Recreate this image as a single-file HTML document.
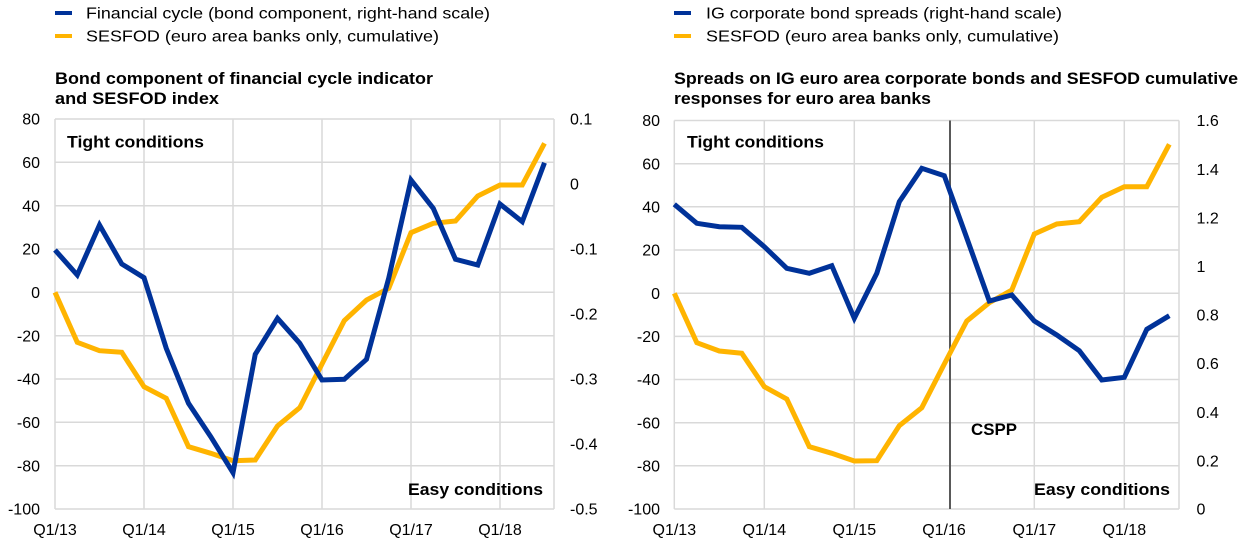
<!DOCTYPE html>
<html>
<head>
<meta charset="utf-8">
<style>
html,body{margin:0;padding:0;background:#fff;}
svg{display:block;}
text{font-family:"Liberation Sans",Arial,sans-serif;fill:#000;}
.t{font-size:16px;}
.b{font-size:17px;font-weight:bold;}
</style>
</head>
<body>
<svg width="1240" height="545" viewBox="0 0 1240 545" xmlns="http://www.w3.org/2000/svg">
<rect width="1240" height="545" fill="#fff"/>

<!-- ===== LEFT CHART ===== -->
<rect x="55" y="11" width="17" height="4" fill="#003299"/>
<text class="t" x="86" y="18.5" textLength="404" lengthAdjust="spacingAndGlyphs">Financial cycle (bond component, right-hand scale)</text>
<rect x="55" y="34" width="17" height="4" fill="#ffb400"/>
<text class="t" x="86" y="41.5" textLength="353" lengthAdjust="spacingAndGlyphs">SESFOD (euro area banks only, cumulative)</text>
<text class="b" x="55" y="84" textLength="378" lengthAdjust="spacingAndGlyphs">Bond component of financial cycle indicator</text>
<text class="b" x="55" y="104" textLength="164" lengthAdjust="spacingAndGlyphs">and SESFOD index</text>

<g stroke="#d9d9d9" stroke-width="1.5" fill="none">
<line x1="55" y1="119" x2="554" y2="119"/>
<line x1="55" y1="162.3" x2="554" y2="162.3"/>
<line x1="55" y1="205.7" x2="554" y2="205.7"/>
<line x1="55" y1="249" x2="554" y2="249"/>
<line x1="55" y1="292.3" x2="554" y2="292.3"/>
<line x1="55" y1="335.7" x2="554" y2="335.7"/>
<line x1="55" y1="379" x2="554" y2="379"/>
<line x1="55" y1="422.3" x2="554" y2="422.3"/>
<line x1="55" y1="465.7" x2="554" y2="465.7"/>
<line x1="55" y1="509" x2="554" y2="509"/>
<line x1="55" y1="119" x2="55" y2="509"/>
<line x1="144" y1="119" x2="144" y2="509"/>
<line x1="233" y1="119" x2="233" y2="509"/>
<line x1="322" y1="119" x2="322" y2="509"/>
<line x1="411" y1="119" x2="411" y2="509"/>
<line x1="500" y1="119" x2="500" y2="509"/>
<line x1="554" y1="119" x2="554" y2="509"/>
</g>

<g text-anchor="end">
<text class="t" x="40" y="124.7">80</text>
<text class="t" x="40" y="168">60</text>
<text class="t" x="40" y="211.4">40</text>
<text class="t" x="40" y="254.7">20</text>
<text class="t" x="40" y="298">0</text>
<text class="t" x="40" y="341.4">-20</text>
<text class="t" x="40" y="384.7">-40</text>
<text class="t" x="40" y="428">-60</text>
<text class="t" x="40" y="471.4">-80</text>
<text class="t" x="40" y="514.7">-100</text>
</g>
<g>
<text class="t" x="570" y="124.7">0.1</text>
<text class="t" x="570" y="189.7">0</text>
<text class="t" x="570" y="254.7">-0.1</text>
<text class="t" x="570" y="319.7">-0.2</text>
<text class="t" x="570" y="384.7">-0.3</text>
<text class="t" x="570" y="449.7">-0.4</text>
<text class="t" x="570" y="514.7">-0.5</text>
</g>
<g text-anchor="middle">
<text class="t" x="55" y="535">Q1/13</text>
<text class="t" x="144" y="535">Q1/14</text>
<text class="t" x="233" y="535">Q1/15</text>
<text class="t" x="322" y="535">Q1/16</text>
<text class="t" x="411" y="535">Q1/17</text>
<text class="t" x="500" y="535">Q1/18</text>
</g>

<polyline fill="none" stroke="#ffb400" stroke-width="5" stroke-linejoin="miter" points="55,292.3 77.25,342.3 99.5,350.7 121.75,352.3 144,386.7 166.25,398.3 188.5,446.7 210.75,453.3 233,460.7 255.25,460 277.5,426 299.75,407.7 322,364 344.25,320.7 366.5,300 388.75,288.3 411,232.7 433.25,223.3 455.5,221 477.75,196 500,185 522.25,185 544.5,143.3"/>
<polyline fill="none" stroke="#003299" stroke-width="5" stroke-linejoin="miter" points="55,250 77.25,275 99.5,225 121.75,264 144,277.7 166.25,348.3 188.5,403.3 210.75,436.7 233,472.7 255.25,354.3 277.5,318.3 299.75,343.3 322,380 344.25,379.3 366.5,359.3 388.75,278 411,180 433.25,208.3 455.5,259.3 477.75,265 500,204 522.25,221.7 544.5,162.7"/>

<text class="b" x="67" y="147.7" textLength="137" lengthAdjust="spacingAndGlyphs">Tight conditions</text>
<text class="b" x="408" y="495" textLength="135" lengthAdjust="spacingAndGlyphs">Easy conditions</text>

<!-- ===== RIGHT CHART ===== -->
<rect x="674" y="11" width="17" height="4" fill="#003299"/>
<text class="t" x="706" y="18.5" textLength="356" lengthAdjust="spacingAndGlyphs">IG corporate bond spreads (right-hand scale)</text>
<rect x="674" y="34" width="17" height="4" fill="#ffb400"/>
<text class="t" x="706" y="41.5" textLength="353" lengthAdjust="spacingAndGlyphs">SESFOD (euro area banks only, cumulative)</text>
<text class="b" x="674" y="84" textLength="564" lengthAdjust="spacingAndGlyphs">Spreads on IG euro area corporate bonds and SESFOD cumulative</text>
<text class="b" x="674" y="104" textLength="257" lengthAdjust="spacingAndGlyphs">responses for euro area banks</text>

<g stroke="#d9d9d9" stroke-width="1.5" fill="none">
<line x1="674.3" y1="120.5" x2="1179" y2="120.5"/>
<line x1="674.3" y1="163.7" x2="1179" y2="163.7"/>
<line x1="674.3" y1="206.8" x2="1179" y2="206.8"/>
<line x1="674.3" y1="250" x2="1179" y2="250"/>
<line x1="674.3" y1="293.2" x2="1179" y2="293.2"/>
<line x1="674.3" y1="336.4" x2="1179" y2="336.4"/>
<line x1="674.3" y1="379.5" x2="1179" y2="379.5"/>
<line x1="674.3" y1="422.7" x2="1179" y2="422.7"/>
<line x1="674.3" y1="465.8" x2="1179" y2="465.8"/>
<line x1="674.3" y1="509" x2="1179" y2="509"/>
<line x1="674.3" y1="120.5" x2="674.3" y2="509"/>
<line x1="764.3" y1="120.5" x2="764.3" y2="509"/>
<line x1="854.3" y1="120.5" x2="854.3" y2="509"/>
<line x1="1034.3" y1="120.5" x2="1034.3" y2="509"/>
<line x1="1124.3" y1="120.5" x2="1124.3" y2="509"/>
<line x1="1179" y1="120.5" x2="1179" y2="509"/>
</g>
<line x1="950" y1="120.5" x2="950" y2="509" stroke="#595959" stroke-width="2"/>

<g text-anchor="end">
<text class="t" x="660" y="126.2">80</text>
<text class="t" x="660" y="169.4">60</text>
<text class="t" x="660" y="212.5">40</text>
<text class="t" x="660" y="255.7">20</text>
<text class="t" x="660" y="298.9">0</text>
<text class="t" x="660" y="342.1">-20</text>
<text class="t" x="660" y="385.2">-40</text>
<text class="t" x="660" y="428.4">-60</text>
<text class="t" x="660" y="471.5">-80</text>
<text class="t" x="660" y="514.7">-100</text>
</g>
<g>
<text class="t" x="1196.5" y="126.2">1.6</text>
<text class="t" x="1196.5" y="174.8">1.4</text>
<text class="t" x="1196.5" y="223.4">1.2</text>
<text class="t" x="1196.5" y="272">1</text>
<text class="t" x="1196.5" y="320.6">0.8</text>
<text class="t" x="1196.5" y="369.2">0.6</text>
<text class="t" x="1196.5" y="417.8">0.4</text>
<text class="t" x="1196.5" y="466.3">0.2</text>
<text class="t" x="1196.5" y="514.7">0</text>
</g>
<g text-anchor="middle">
<text class="t" x="674.3" y="535">Q1/13</text>
<text class="t" x="764.3" y="535">Q1/14</text>
<text class="t" x="854.3" y="535">Q1/15</text>
<text class="t" x="944" y="535">Q1/16</text>
<text class="t" x="1034.3" y="535">Q1/17</text>
<text class="t" x="1124.3" y="535">Q1/18</text>
</g>

<polyline fill="none" stroke="#ffb400" stroke-width="5" stroke-linejoin="miter" points="674.3,293.3 696.8,342.7 719.3,351 741.8,353.3 764.3,386.7 786.8,399 809.3,446.7 831.8,453.3 854.3,461 876.8,460.7 899.3,425.7 921.8,407.7 944.3,364 966.8,321 989.3,302.7 1011.8,290 1034.3,234 1056.8,224 1079.3,221.7 1101.8,197.3 1124.3,186.7 1146.8,186.7 1169.3,144.3"/>
<polyline fill="none" stroke="#003299" stroke-width="5" stroke-linejoin="miter" points="674.3,204.3 696.8,223.3 719.3,226.7 741.8,227.3 764.3,246.7 786.8,268.3 809.3,273.3 831.8,265.7 854.3,318.3 876.8,273.3 899.3,201.7 921.8,168.3 944.3,175.7 966.8,238 989.3,301 1011.8,295 1034.3,321 1056.8,335 1079.3,350.7 1101.8,380 1124.3,377.3 1146.8,329.3 1169.3,315.7"/>

<text class="b" x="687" y="147.7" textLength="137" lengthAdjust="spacingAndGlyphs">Tight conditions</text>
<text class="b" x="1034" y="495" textLength="136" lengthAdjust="spacingAndGlyphs">Easy conditions</text>
<text class="b" x="971" y="435" textLength="46" lengthAdjust="spacingAndGlyphs">CSPP</text>
</svg>
</body>
</html>
